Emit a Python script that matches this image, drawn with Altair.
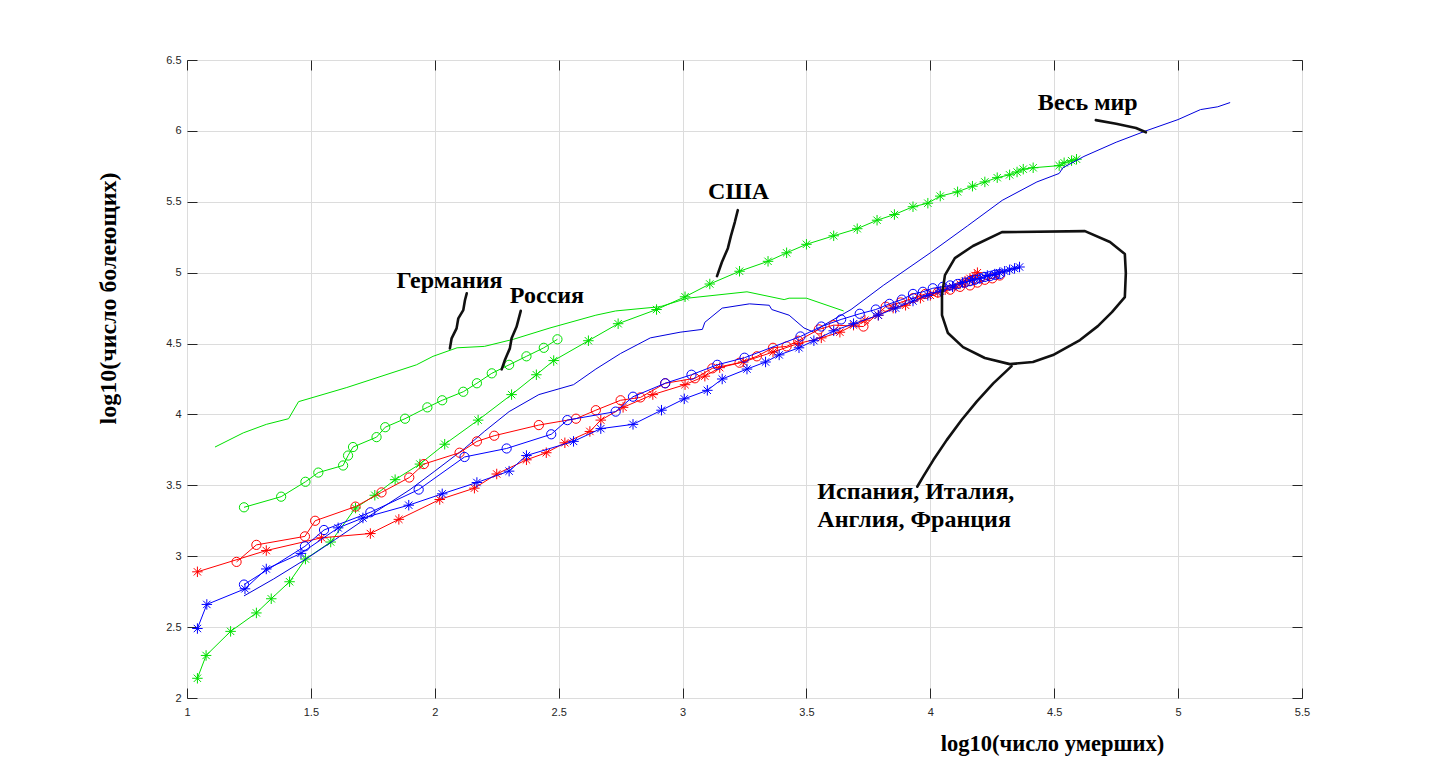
import altair as alt
import pandas as pd

# ---------------- data (log10 deaths, log10 cases) ----------------
germany_x = [1.113, 1.227, 1.32, 1.41, 1.45, 1.645, 1.926, 1.993, 2.09, 2.20, 2.317, 2.465, 2.65, 2.73, 2.91, 3.02, 3.26, 3.41, 3.43, 3.50, 3.65]
germany_y = [3.77, 3.87, 3.93, 3.97, 4.09, 4.19, 4.35, 4.41, 4.47, 4.48, 4.53, 4.61, 4.70, 4.73, 4.76, 4.82, 4.865, 4.81, 4.82, 4.82, 4.73]

russia_x = [1.23, 1.38, 1.478, 1.53, 1.63, 1.65, 1.67, 1.765, 1.80, 1.88, 1.97, 2.03, 2.115, 2.17, 2.23, 2.30, 2.37, 2.44, 2.495]
russia_y = [3.345, 3.42, 3.525, 3.59, 3.64, 3.71, 3.77, 3.84, 3.91, 3.97, 4.05, 4.10, 4.16, 4.22, 4.29, 4.35, 4.41, 4.47, 4.53]

usa_x = [1.042, 1.077, 1.176, 1.28, 1.34, 1.414, 1.478, 1.58, 1.68, 1.758, 1.84, 1.94, 2.04, 2.175, 2.31, 2.41, 2.48, 2.62, 2.74, 2.895,
         3.01, 3.11, 3.23, 3.345, 3.42, 3.50, 3.61, 3.705, 3.785, 3.855, 3.93, 3.99, 4.04, 4.11, 4.17, 4.22, 4.27, 4.32, 4.35, 4.375,
         4.415, 4.52, 4.54, 4.57, 4.59]
usa_y = [2.139, 2.30, 2.47, 2.60, 2.70, 2.82, 2.98, 3.10, 3.34, 3.43, 3.54, 3.65, 3.79, 3.96, 4.14, 4.28, 4.38, 4.52, 4.64, 4.74,
         4.83, 4.92, 5.01, 5.08, 5.14, 5.20, 5.26, 5.31, 5.37, 5.41, 5.465, 5.49, 5.54, 5.57, 5.61, 5.64, 5.67, 5.69, 5.71, 5.73,
         5.74, 5.755, 5.775, 5.79, 5.80]

world_x = [1.23, 1.35, 1.48, 1.60, 1.75, 1.90, 2.00, 2.12, 2.20, 2.30, 2.42, 2.56, 2.65, 2.75, 2.87, 2.99, 3.08, 3.09, 3.16, 3.27,
           3.35, 3.36, 3.43, 3.49, 3.53, 3.57, 3.68, 3.81, 4.00, 4.15, 4.29, 4.43, 4.52, 4.535, 4.62, 4.75, 4.87, 5.00, 5.09, 5.16, 5.21]
world_y = [2.72, 2.84, 2.98, 3.12, 3.30, 3.47, 3.60, 3.76, 3.88, 4.02, 4.14, 4.21, 4.32, 4.43, 4.54, 4.58, 4.60, 4.65, 4.75, 4.78,
           4.77, 4.74, 4.70, 4.61, 4.58, 4.63, 4.74, 4.91, 5.14, 5.33, 5.51, 5.64, 5.70, 5.74, 5.82, 5.92, 6.00, 6.08, 6.15, 6.17, 6.20]

red_o_x = [1.20, 1.28, 1.476, 1.517, 1.68, 1.785, 1.897, 1.956, 2.10, 2.17, 2.24, 2.42, 2.57, 2.65, 2.75, 2.83, 2.93, 3.05, 3.12, 3.23,
           3.30, 3.365, 3.42, 3.467, 3.55, 3.61, 3.73, 3.82, 3.88, 3.93, 3.98, 4.03, 4.08, 4.12, 4.16, 4.19, 4.22, 4.25, 4.28]
red_o_y = [2.96, 3.08, 3.14, 3.25, 3.35, 3.45, 3.555, 3.65, 3.73, 3.81, 3.85, 3.925, 3.97, 4.03, 4.10, 4.12, 4.22, 4.255, 4.325, 4.365,
           4.41, 4.47, 4.48, 4.52, 4.60, 4.63, 4.62, 4.76, 4.79, 4.82, 4.85, 4.86, 4.88, 4.90, 4.91, 4.93, 4.95, 4.96, 4.98]

red_s_x = [1.042, 1.32, 1.543, 1.74, 1.855, 2.02, 2.16, 2.25, 2.37, 2.45, 2.525, 2.626, 2.67, 2.76, 2.88, 3.01, 3.09, 3.15, 3.245, 3.365,
           3.467, 3.56, 3.635, 3.69, 3.736, 3.79, 3.85, 3.90, 3.96, 4.00, 4.03, 4.06, 4.09, 4.12, 4.14, 4.16, 4.18, 4.19]
red_s_y = [2.89, 3.04, 3.13, 3.16, 3.26, 3.40, 3.48, 3.58, 3.68, 3.73, 3.80, 3.88, 3.96, 4.05, 4.14, 4.21, 4.27, 4.33, 4.37, 4.44,
           4.50, 4.54, 4.58, 4.63, 4.665, 4.70, 4.75, 4.77, 4.82, 4.84, 4.86, 4.88, 4.90, 4.92, 4.94, 4.96, 4.98, 5.00]

blue_o_x = [1.23, 1.476, 1.553, 1.74, 1.935, 2.12, 2.29, 2.47, 2.535, 2.73, 2.80, 2.93, 3.036, 3.14, 3.25, 3.476, 3.56, 3.64, 3.715, 3.78,
            3.835, 3.885, 3.93, 3.97, 4.01, 4.05, 4.08, 4.11, 4.14, 4.16, 4.18, 4.20, 4.22, 4.24, 4.26, 4.28]
blue_o_y = [2.80, 3.07, 3.185, 3.31, 3.47, 3.70, 3.76, 3.86, 3.96, 4.02, 4.125, 4.22, 4.28, 4.35, 4.40, 4.55, 4.62, 4.67, 4.71, 4.74,
            4.78, 4.81, 4.85, 4.865, 4.89, 4.90, 4.91, 4.92, 4.93, 4.94, 4.95, 4.96, 4.97, 4.975, 4.985, 4.99]

blue_s_x = [1.042, 1.08, 1.234, 1.32, 1.46, 1.61, 1.71, 1.895, 2.03, 2.17, 2.30, 2.37, 2.56, 2.67, 2.80, 2.915, 3.007, 3.10, 3.16, 3.26,
            3.335, 3.39, 3.47, 3.53, 3.61, 3.69, 3.79, 3.86, 3.93, 3.99, 4.04, 4.09, 4.13, 4.17, 4.20, 4.23, 4.26, 4.28, 4.30, 4.32,
            4.34, 4.36]
blue_s_y = [2.49, 2.66, 2.77, 2.91, 3.02, 3.20, 3.27, 3.36, 3.44, 3.52, 3.60, 3.71, 3.81, 3.90, 3.93, 4.03, 4.11, 4.17, 4.25, 4.32,
            4.37, 4.42, 4.47, 4.52, 4.59, 4.64, 4.70, 4.75, 4.80, 4.84, 4.87, 4.90, 4.93, 4.95, 4.96, 4.98, 4.99, 5.00, 5.01, 5.02,
            5.03, 5.04]

# annotation labels (data units)
label_text = ["Весь мир", "США", "Германия", "Россия", "Испания, Италия,", "Англия, Франция"]
label_x = [4.434, 3.103, 1.846, 2.303, 3.544, 3.544]
label_y = [6.147, 5.519, 4.894, 4.788, 3.401, 3.204]

# hand-drawn annotation strokes (data units)
lead_world_x = [4.668, 4.75, 4.83, 4.87]
lead_world_y = [6.076, 6.05, 6.02, 5.99]
lead_usa_x = [3.139, 3.159, 3.183, 3.195, 3.211, 3.223]
lead_usa_y = [4.976, 5.075, 5.173, 5.258, 5.357, 5.441]
lead_ger_x = [2.061, 2.068, 2.088, 2.095, 2.115, 2.122, 2.129]
lead_ger_y = [4.466, 4.537, 4.607, 4.678, 4.736, 4.807, 4.854]
lead_rus_x = [2.270, 2.283, 2.303, 2.310, 2.330, 2.347]
lead_rus_y = [4.318, 4.384, 4.466, 4.537, 4.618, 4.731]
loop_x = [4.321, 4.220, 4.132, 4.071, 4.047, 4.047, 4.059, 4.099, 4.172, 4.289, 4.624, 4.725, 4.785, 4.789, 4.785, 4.733, 4.676, 4.604, 4.495, 4.414, 4.321]
loop_y = [4.355, 4.398, 4.475, 4.574, 4.701, 4.842, 4.983, 5.103, 5.188, 5.286, 5.293, 5.216, 5.131, 4.997, 4.828, 4.722, 4.623, 4.525, 4.419, 4.370, 4.355]
lead_eu_x = [4.328, 4.254, 4.187, 4.126, 4.066, 4.012, 3.971, 3.947]
lead_eu_y = [4.341, 4.219, 4.090, 3.961, 3.819, 3.678, 3.561, 3.490]

tick_values = [1, 1.5, 2, 2.5, 3, 3.5, 4, 4.5, 5, 5.5]
ytick_values = [2, 2.5, 3, 3.5, 4, 4.5, 5, 5.5, 6, 6.5]

# ---------------- chart ----------------
XS = alt.Scale(domain=[1, 5.5], nice=False, zero=False)
YS = alt.Scale(domain=[2, 6.5], nice=False, zero=False)

GREEN = "#00e000"
RED = "#ff0000"
BLUE = "#0000ff"
ASTERISK = "M0,-1L0,1M-1,0L1,0M-0.7,-0.7L0.7,0.7M-0.7,0.7L0.7,-0.7"


def frame(xs, ys):
    return pd.DataFrame({"x": xs, "y": ys, "i": list(range(len(xs)))})


def series(xs, ys, color, shape=None, width=1.0):
    base = alt.Chart(frame(xs, ys)).encode(
        x=alt.X("x:Q", scale=XS, axis=None),
        y=alt.Y("y:Q", scale=YS, axis=None),
        order=alt.Order("i:Q"),
    )
    out = [base.mark_line(color=color, strokeWidth=width)]
    if shape == "circle":
        out.append(base.mark_point(shape="circle", size=85, color=color, strokeWidth=1, filled=False, opacity=1))
    elif shape == "asterisk":
        out.append(base.mark_point(shape=ASTERISK, size=110, color=color, strokeWidth=1, filled=False, opacity=1))
    return out


TICK_COLOR = "#262626"

axis_main = alt.Chart(frame(usa_x, usa_y)).mark_point(opacity=0).encode(
    x=alt.X("x:Q", scale=XS, axis=alt.Axis(
        orient="bottom", values=tick_values, format="~g", offset=-10, tickSize=10, tickColor=TICK_COLOR,
        domain=False, grid=True, gridColor="#dcdcdc", labelPadding=8, labelFontSize=11,
        labelFont="Liberation Sans", labelColor=TICK_COLOR, labelFlush=False,
        title="log10(число умерших)", titleFont="Liberation Serif", titleFontSize=22.5, titleFontWeight="bold",
        titleColor="black", titleX=865, titleY=62, titleAnchor="start", titleAlign="center", titleBaseline="alphabetic")),
    y=alt.Y("y:Q", scale=YS, axis=alt.Axis(
        orient="left", values=ytick_values, format="~g", offset=-10, tickSize=10, tickColor=TICK_COLOR,
        domain=False, grid=True, gridColor="#dcdcdc", labelPadding=6, labelFontSize=11,
        labelFont="Liberation Sans", labelColor=TICK_COLOR, labelFlush=False,
        title="log10(число болеющих)", titleFont="Liberation Serif", titleFontSize=24, titleFontWeight="bold",
        titleColor="black", titleX=-82, titleY=238, titleAngle=-90, titleAlign="center", titleBaseline="alphabetic")),
)

axis_far = alt.Chart(frame(usa_x, usa_y)).mark_point(opacity=0).encode(
    x=alt.X("x:Q", scale=XS, axis=alt.Axis(
        orient="top", values=tick_values, offset=-10, tickSize=10, tickColor=TICK_COLOR,
        domain=False, grid=False, labels=False, title=None)),
    y=alt.Y("y:Q", scale=YS, axis=alt.Axis(
        orient="right", values=ytick_values, offset=-10, tickSize=10, tickColor=TICK_COLOR,
        domain=False, grid=False, labels=False, title=None)),
)

layers = [axis_main, axis_far]
layers += series(germany_x, germany_y, GREEN)
layers += series(russia_x, russia_y, GREEN, "circle")
layers += series(usa_x, usa_y, GREEN, "asterisk")
layers += series(world_x, world_y, "#0000dd")
layers += series(red_o_x, red_o_y, RED, "circle")
layers += series(red_s_x, red_s_y, RED, "asterisk")
layers += series(blue_o_x, blue_o_y, BLUE, "circle")
layers += series(blue_s_x, blue_s_y, BLUE, "asterisk")

strokes = []
for gname, sx, sy in [("world", lead_world_x, lead_world_y), ("usa", lead_usa_x, lead_usa_y),
                      ("ger", lead_ger_x, lead_ger_y), ("rus", lead_rus_x, lead_rus_y),
                      ("loop", loop_x, loop_y), ("eu", lead_eu_x, lead_eu_y)]:
    f = frame(sx, sy)
    f["g"] = gname
    strokes.append(f)
strokes_df = pd.concat(strokes, ignore_index=True)

ann_lines = alt.Chart(strokes_df).mark_line(color="#111111", strokeWidth=2.6, strokeCap="round", strokeJoin="round").encode(
    x=alt.X("x:Q", scale=XS, axis=None),
    y=alt.Y("y:Q", scale=YS, axis=None),
    detail="g:N",
    order=alt.Order("i:Q"),
)

labels_df = pd.DataFrame({"x": label_x, "y": label_y, "t": label_text})
ann_text = alt.Chart(labels_df).mark_text(
    font="Liberation Serif", fontSize=24, fontWeight="bold", color="black", align="left", baseline="alphabetic"
).encode(
    x=alt.X("x:Q", scale=XS, axis=None),
    y=alt.Y("y:Q", scale=YS, axis=None),
    text="t:N",
)

layers += [ann_lines, ann_text]

chart = alt.layer(*layers).resolve_axis(x="independent", y="independent").properties(
    width=1115, height=638,
    autosize=alt.AutoSizeParams(type="none"),
    padding={"left": 179, "top": 52, "right": 120, "bottom": 70},
    background="white",
).configure_view(stroke="#262626", strokeWidth=1)

chart.save("out.html", embed_options={"renderer": "svg", "actions": False})
